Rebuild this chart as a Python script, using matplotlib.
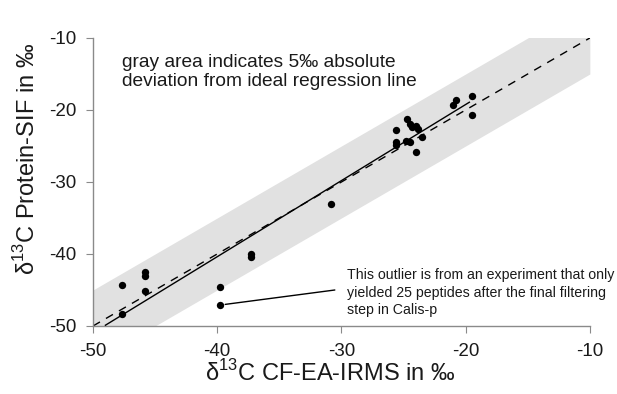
import matplotlib
matplotlib.use("Agg")
import matplotlib.pyplot as plt
import numpy as np

plt.rcParams['font.family'] = ['Liberation Sans', 'DejaVu Sans']
plt.rcParams['mathtext.fontset'] = 'custom'
plt.rcParams['mathtext.rm'] = 'Liberation Sans'
plt.rcParams['axes.unicode_minus'] = False

# data
x_ea = [-47.7, -47.7, -45.8, -45.8, -45.8, -39.8, -39.8, -37.3, -37.3, -30.8,
        -25.6, -25.6, -25.6, -24.7, -24.5, -24.3, -24.0, -24.8, -24.5, -24.0,
        -23.5, -23.8, -21.0, -20.75, -19.5, -19.45]
y_sif = [-44.3, -48.4, -42.5, -43.0, -45.1, -44.6, -47.1, -40.0, -40.4, -33.1,
         -22.8, -24.5, -24.8, -21.25, -21.9, -22.3, -22.2, -24.3, -24.5, -25.8,
         -23.7, -22.7, -19.3, -18.6, -18.1, -20.7]
band_halfwidth = 5.0
fit_slope = 1.057
fit_intercept = 1.9
fit_range = [-49.0, -19.7]
ticks = [-50, -40, -30, -20, -10]
outlier = (-39.8, -47.1)

fig = plt.figure(figsize=(6.17, 3.94), dpi=100)
ax = fig.add_axes([0.1507, 0.1726, 0.8053, 0.731])

xx = np.array([-50, -10])
ax.fill_between(xx, xx - band_halfwidth, xx + band_halfwidth, color='#e1e1e1', lw=0, zorder=1)
ax.plot(xx, xx, color='black', ls=(0, (5.8, 5)), lw=1.0, zorder=2)
fx = np.array(fit_range)
ax.plot(fx, fit_slope * fx + fit_intercept, color='black', lw=1.0, zorder=3)
ax.scatter(x_ea, y_sif, s=28, color='black', zorder=4, lw=0)

ax.set_xlim(-50, -10)
ax.set_ylim(-50, -10)
ax.set_xticks(ticks)
ax.set_yticks(ticks)
for s in ['top', 'right']:
    ax.spines[s].set_visible(False)
for s in ['left', 'bottom']:
    ax.spines[s].set_color('#8a8a8a')
    ax.spines[s].set_linewidth(1.0)
ax.tick_params(direction='out', length=5, color='#8a8a8a', labelsize=13.5, pad=7,
               labelcolor='#1a1a1a')

fig.text(0.477 * 0.8053 + 0.1507, 1 - 373 / 394, r'δ$^{\mathregular{13}}$C CF-EA-IRMS in ‰',
         fontsize=17, ha='center', va='center', color='#1a1a1a')
fig.text(27 / 617, 1 - 159 / 394, r'δ$^{\mathregular{13}}$C Protein-SIF in ‰',
         fontsize=17, ha='center', va='center', rotation=90, color='#1a1a1a')

ax.text(-47.67, -12.2, 'gray area indicates 5‰ absolute\ndeviation from ideal regression line',
        fontsize=13.8, va='top', ha='left', linespacing=1.2, color='#1a1a1a')

ax.annotate('', xy=outlier, xytext=(-30.53, -45.0),
            arrowprops=dict(arrowstyle='-', color='black', lw=1.0, shrinkA=0, shrinkB=4))
ax.text(-29.57, -41.9,
        'This outlier is from an experiment that only\nyielded 25 peptides after the final filtering\nstep in Calis-p',
        fontsize=10.2, va='top', ha='left', linespacing=1.35, color='#1a1a1a')

fig.savefig('out.png', dpi=100)
